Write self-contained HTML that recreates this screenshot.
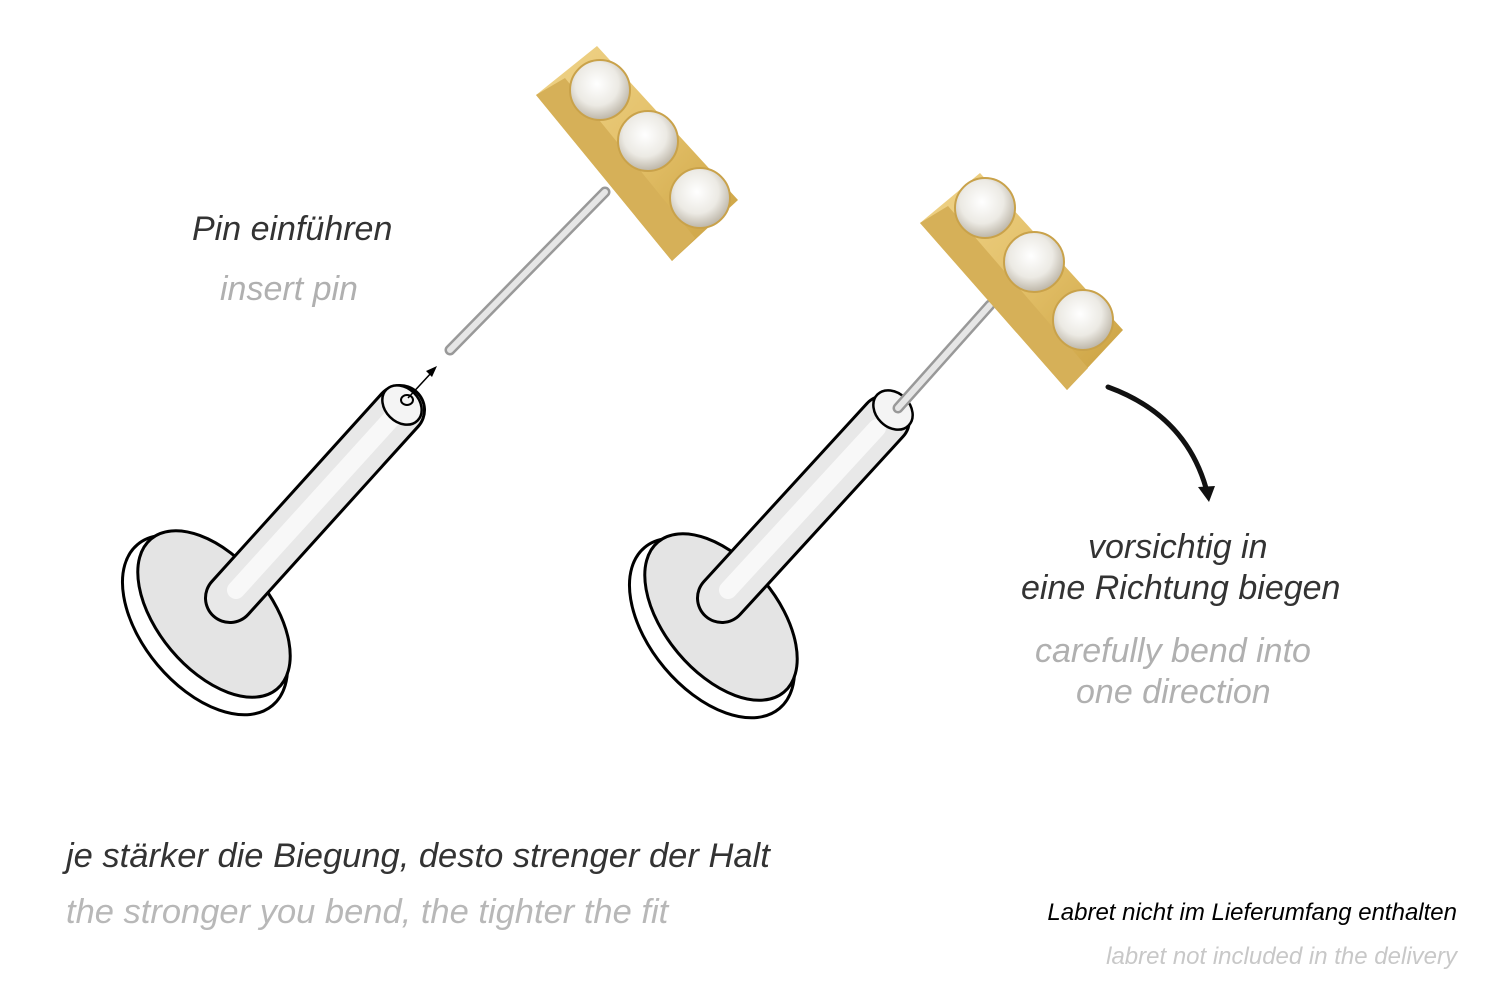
<!DOCTYPE html>
<html><head><meta charset="utf-8"><style>
html,body{margin:0;padding:0;background:#fff;}
body{width:1500px;height:1001px;position:relative;overflow:hidden;font-family:"Liberation Sans",sans-serif;font-style:italic;}
.t{position:absolute;white-space:nowrap;}
</style></head><body>
<svg width="1500" height="1001" style="position:absolute;left:0;top:0">
<defs>
<linearGradient id="gold" x1="0" y1="0" x2="1" y2="1">
<stop offset="0" stop-color="#f0d48a"/><stop offset="0.5" stop-color="#e3c069"/><stop offset="1" stop-color="#c99f3e"/></linearGradient>
<radialGradient id="gem" cx="0.45" cy="0.4" r="0.6"><stop offset="0" stop-color="#fff"/><stop offset="0.6" stop-color="#eceae4"/><stop offset="1" stop-color="#bdb6a8"/></radialGradient>
</defs>

<g>
 <ellipse cx="205" cy="625" rx="105" ry="62" transform="rotate(50 205 625)" fill="#fff" stroke="#000" stroke-width="3"/>
 <ellipse cx="214" cy="614" rx="98" ry="56" transform="rotate(50 214 614)" fill="#e4e4e4" stroke="#000" stroke-width="3"/>
 <line x1="230" y1="598" x2="400" y2="410" stroke="#000" stroke-width="52" stroke-linecap="round"/>
 <line x1="230" y1="598" x2="400" y2="410" stroke="#e8e8e8" stroke-width="46" stroke-linecap="round"/>
 <line x1="236" y1="590" x2="392" y2="418" stroke="#f8f8f8" stroke-width="18" stroke-linecap="round"/>
 <ellipse cx="402" cy="405" rx="22" ry="17" transform="rotate(45 402 405)" fill="#f4f4f4" stroke="#000" stroke-width="2.5"/>
 <ellipse cx="407" cy="400" rx="6" ry="5" fill="none" stroke="#000" stroke-width="2"/>
 <line x1="408" y1="398" x2="432" y2="372" stroke="#000" stroke-width="1.5"/>
 <polygon points="437,366 426,371 432,377" fill="#000"/>
 <line x1="450" y1="350" x2="605" y2="192" stroke="#999" stroke-width="11" stroke-linecap="round"/>
 <line x1="450" y1="350" x2="605" y2="192" stroke="#e6e6e6" stroke-width="6" stroke-linecap="round"/>
 <polygon points="536,95 597,46 738,200 672,261" fill="url(#gold)"/>
 <polygon points="536,95 565,78 695,238 672,261" fill="#d6b058"/>
 <g stroke="#c9a24a" stroke-width="2">
 <circle cx="600" cy="90" r="30" fill="url(#gem)"/>
 <circle cx="648" cy="141" r="30" fill="url(#gem)"/>
 <circle cx="700" cy="198" r="30" fill="url(#gem)"/>
 </g>
</g>

<g>
 <ellipse cx="712" cy="628" rx="105" ry="62" transform="rotate(50 712 628)" fill="#fff" stroke="#000" stroke-width="3"/>
 <ellipse cx="721" cy="617" rx="98" ry="56" transform="rotate(50 721 617)" fill="#e4e4e4" stroke="#000" stroke-width="3"/>
 <line x1="722" y1="598" x2="885" y2="420" stroke="#000" stroke-width="52" stroke-linecap="round"/>
 <line x1="722" y1="598" x2="885" y2="420" stroke="#e8e8e8" stroke-width="46" stroke-linecap="round"/>
 <line x1="728" y1="590" x2="877" y2="428" stroke="#f8f8f8" stroke-width="18" stroke-linecap="round"/>
 <ellipse cx="893" cy="410" rx="22" ry="17" transform="rotate(45 893 410)" fill="#f4f4f4" stroke="#000" stroke-width="2.5"/>
 <line x1="898" y1="408" x2="990" y2="305" stroke="#999" stroke-width="11" stroke-linecap="round"/>
 <line x1="898" y1="408" x2="990" y2="305" stroke="#e6e6e6" stroke-width="6" stroke-linecap="round"/>
 <polygon points="920,223 980,173 1123,330 1067,390" fill="url(#gold)"/>
 <polygon points="920,223 948,206 1088,368 1067,390" fill="#d6b058"/>
 <g stroke="#c9a24a" stroke-width="2">
 <circle cx="985" cy="208" r="30" fill="url(#gem)"/>
 <circle cx="1034" cy="262" r="30" fill="url(#gem)"/>
 <circle cx="1083" cy="320" r="30" fill="url(#gem)"/>
 </g>
 <path d="M1108,387 Q1185,415 1206,488" fill="none" stroke="#111" stroke-width="5" stroke-linecap="round"/>
 <polygon points="1198,487 1215,486 1209,502" fill="#111"/>
</g>
</svg>

<div class="t" style="left:192px;top:210px;font-size:34px;color:#333;">Pin einführen</div>
<div class="t" style="left:220px;top:270px;font-size:34px;color:#b0b0b0;">insert pin</div>
<div class="t" style="left:1088px;top:528px;font-size:34px;color:#333;">vorsichtig in</div>
<div class="t" style="left:1021px;top:569px;font-size:34px;color:#333;">eine Richtung biegen</div>
<div class="t" style="left:1035px;top:632px;font-size:34px;color:#b0b0b0;">carefully bend into</div>
<div class="t" style="left:1076px;top:673px;font-size:34px;color:#b0b0b0;">one direction</div>
<div class="t" style="left:66px;top:837px;font-size:34.5px;color:#333;">je stärker die Biegung, desto strenger der Halt</div>
<div class="t" style="left:66px;top:893px;font-size:34.5px;color:#b8b8b8;">the stronger you bend, the tighter the fit</div>
<div class="t" style="right:43px;top:899px;font-size:24px;color:#000;">Labret nicht im Lieferumfang enthalten</div>
<div class="t" style="right:43px;top:943px;font-size:24px;color:#c8c8c8;">labret not included in the delivery</div>
</body></html>
